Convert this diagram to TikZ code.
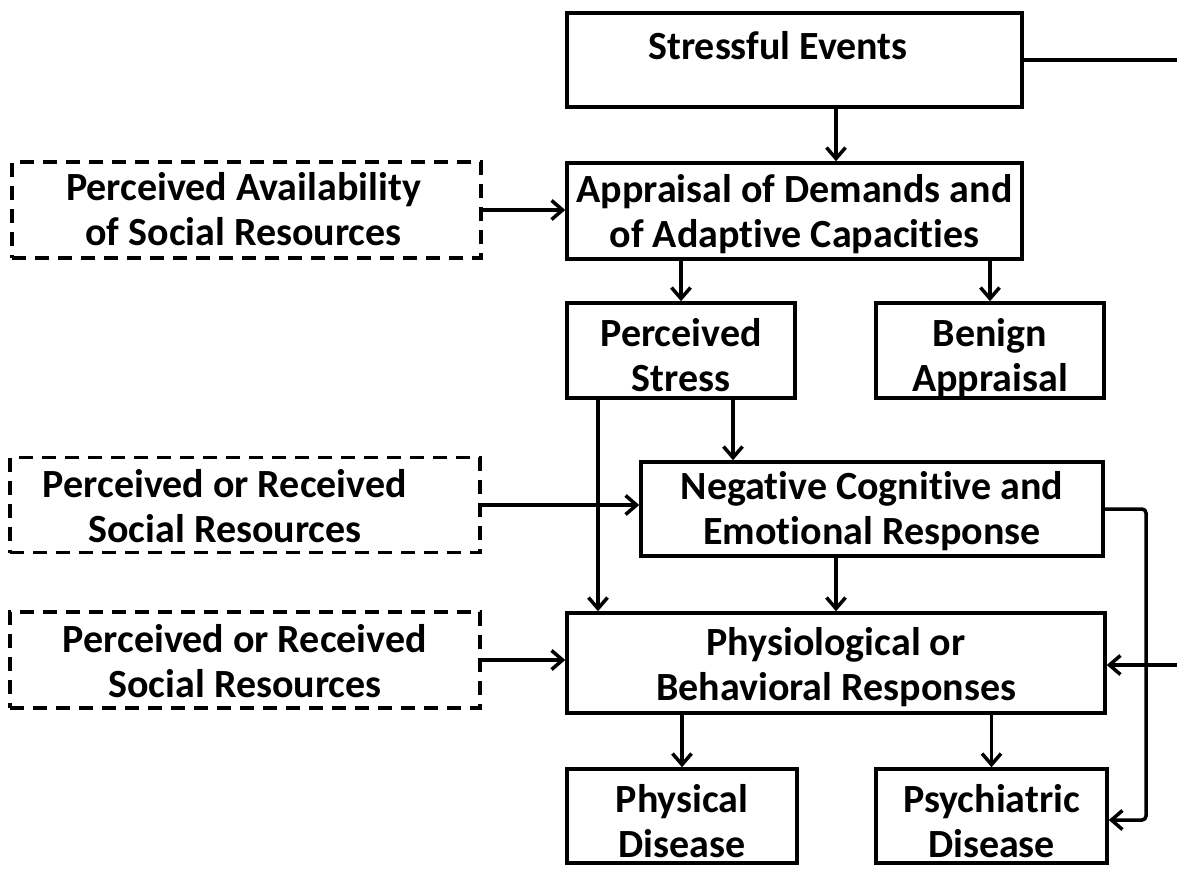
\documentclass[tikz,border=0pt]{standalone}
\usepackage{fontspec}
\setmainfont{Carlito}[Ligatures=NoCommon]
\usetikzlibrary{arrows.meta}
\newcommand\twolines[2]{\strut #1\\\strut #2}
\begin{document}
\begin{tikzpicture}[x=1pt,y=-1pt,
  lbl/.style={font=\bfseries\fontsize{40}{45}\selectfont, align=center, inner sep=0pt},
  box/.style={draw, line width=3.5pt, inner sep=0pt, outer sep=1.75pt},
  dbox/.style={box, dash pattern=on 14pt off 9pt},
  flow/.style={line width=3.5pt, -{Straight Barb[length=11pt,width=19pt,line width=3.5pt]}},
  link/.style={line width=3.5pt}]
\useasboundingbox (0,0) rectangle (1177,868);

% main chain of boxes
\node[box, minimum width=455pt, minimum height=94pt] (ev) at (794.5,60) {};
\node[box, minimum width=455pt, minimum height=96pt] (app) at (794.5,211) {};
\node[box, minimum width=228pt, minimum height=95pt] (ps) at (681,350.5) {};
\node[box, minimum width=228pt, minimum height=95pt] (ba) at (990,350.5) {};
\node[box, minimum width=462pt, minimum height=94pt] (neg) at (872,509) {};
\node[box, minimum width=538pt, minimum height=100pt] (phy) at (836,663) {};
\node[box, minimum width=230pt, minimum height=94pt] (pd) at (682,816) {};
\node[box, minimum width=231pt, minimum height=94pt] (psy) at (991.5,816) {};

% social resource boxes
\node[dbox, minimum width=469pt, minimum height=96pt] (pa1) at (246.5,210) {};
\node[dbox, minimum width=470pt, minimum height=95pt] (pr1) at (245,505) {};
\node[dbox, minimum width=470pt, minimum height=96pt] (pr2) at (245,660) {};

% texts
\node[lbl] (ev-t)  at (778,50) {\strut Stressful Events};
\node[lbl] (app-t) at ([yshift=-5pt]app.center) {\twolines{Appraisal of Demands and}{of Adaptive Capacities}};
\node[lbl] (ps-t)  at ([yshift=-9pt]ps.center) {\twolines{Perceived}{Stress}};
\node[lbl] (ba-t)  at ([yshift=-9pt]ba.center) {\twolines{Benign}{Appraisal}};
\node[lbl] (neg-t) at ([yshift=-4pt]neg.center) {\twolines{Negative Cognitive and}{Emotional Response}};
\node[lbl] (phy-t) at ([yshift=-6pt]phy.center) {\twolines{Physiological or}{Behavioral Responses}};
\node[lbl] (pd-t)  at ([yshift=-10pt]pd.center) {\twolines{Physical}{Disease}};
\node[lbl] (psy-t) at ([yshift=-10pt]psy.center) {\twolines{Psychiatric}{Disease}};
\node[lbl] (pa1-t) at ([xshift=-3pt,yshift=-4pt]pa1.center) {\twolines{Perceived Availability}{of Social Resources}};
\node[lbl] (pr1-t) at ([xshift=-20pt,yshift=-6pt]pr1.center) {\twolines{Perceived or Received}{Social Resources}};
\node[lbl] (pr2-t) at ([yshift=-6pt]pr2.center) {\twolines{Perceived or Received}{Social Resources}};

% free ends at the right margin
\coordinate (rout) at (1177,60);
\coordinate (rin) at (1177,665);

% connectors
\draw[link] (ev.east) -- (rout);
\draw[flow] (836,0 |- ev.south) -- (836,0 |- app.north);
\draw[flow] (pa1.east) -- (pa1.east -| app.west);
\draw[flow] (app.south -| ps.north) -- (ps.north);
\draw[flow] (app.south -| ba.north) -- (ba.north);
\draw[flow] (733,0 |- ps.south) -- (733,0 |- neg.north);
\draw[flow] (598,0 |- ps.south) -- (598,0 |- phy.north);
\draw[flow] (pr1.east) -- (pr1.east -| neg.west);
\draw[flow] (836,0 |- neg.south) -- (836,0 |- phy.north);
\draw[flow] (pr2.east) -- (pr2.east -| phy.west);
\draw[flow] (rin) -- (rin -| phy.east);
\draw[flow, rounded corners=4pt] (neg.east) -- (1146,0 |- neg.east)
  -- (1146,820) -- (psy.east |- 0,820);
\draw[flow] (phy.south -| pd.north) -- (pd.north);
\draw[flow] (phy.south -| psy.north) -- (psy.north);
\end{tikzpicture}
\end{document}
